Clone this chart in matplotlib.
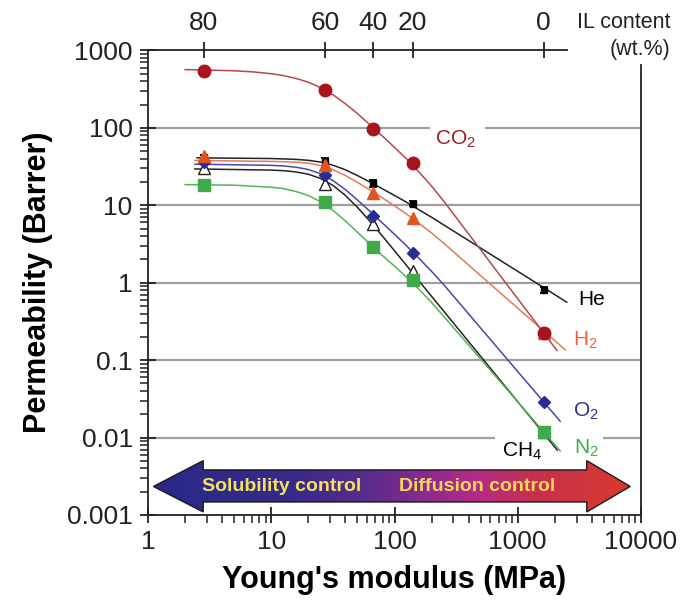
import numpy as np
import matplotlib
matplotlib.use('Agg')
import matplotlib.pyplot as plt
from matplotlib.patches import Polygon
from matplotlib.colors import LinearSegmentedColormap
from matplotlib.ticker import FixedLocator, NullLocator, LogLocator, NullFormatter

plt.rcParams['font.family'] = ['Liberation Sans', 'DejaVu Sans']

# Young's modulus (MPa) of the five membranes and their IL content (wt.%)
modulus = [2.83, 27.3, 66.5, 140, 1620]
il_content = ['80', '60', '40', '20', '0']

# measured permeabilities (Barrer)
p_co2 = [538, 306, 97, 35.4, 0.222]
p_h2 = [43.7, 33.4, 14.6, 6.8, 0.222]
p_he = [41, 36.4, 19.4, 10.5, 0.81]
p_he_err = [3, 5, 2, 0.85, 0.08]
p_o2 = [35.8, 24.8, 7.3, 2.45, 0.029]
p_ch4 = [30.3, 19.0, 5.8, 1.4, 0.0118]
p_n2 = [18.4, 11.0, 2.88, 1.09, 0.0119]

# fitted curves
fit_co2_e = [2, 3.16, 5, 7.08, 10, 12.6, 15.8, 20, 25.1, 31.6, 39.8, 50.1, 63.1, 79.4,
             100, 126, 158, 200, 251, 501, 1000, 1620, 2080]
fit_co2_p = [566, 558, 546, 529, 501, 473, 436, 389, 331, 268, 206, 153, 110, 78.9,
             56.0, 39.4, 26.9, 17.7, 11.3, 2.65, 0.62, 0.226, 0.133]
fit_he_e = [2.5, 10, 15.8, 20, 25.1, 31.6, 39.8, 50.1, 63.1, 79.4, 100, 126, 158, 200,
            251, 1620, 2500]
fit_he_p = [41, 40.2, 39.2, 38.1, 36.2, 33.0, 28.8, 24.2, 20.0, 16.4, 13.4, 10.9, 8.74, 7.0,
            5.58, 0.866, 0.56]
fit_h2_e = [2.4, 10, 15.8, 20, 25.1, 31.6, 39.8, 50.1, 63.1, 79.4, 100, 126, 158, 200,
            251, 501, 1000, 1620, 2430]
fit_h2_p = [38, 36.9, 36.1, 35.0, 32.6, 28.9, 24.3, 19.8, 15.8, 12.5, 9.86, 7.65, 5.84, 4.38,
            3.24, 1.23, 0.469, 0.239, 0.136]
fit_o2_e = [2.4, 10, 12.6, 15.8, 20, 25.1, 31.6, 39.8, 50.1, 63.1, 79.4, 100, 126, 158,
            200, 251, 501, 1000, 1620, 2210]
fit_o2_p = [34, 32.8, 32.2, 31.1, 29.0, 25.6, 20.9, 16.0, 11.7, 8.37, 5.95, 4.22, 2.97, 2.06,
            1.40, 0.943, 0.259, 0.0712, 0.029, 0.0162]
fit_ch4_e = [2.4, 10, 12.6, 15.8, 20, 25.1, 31.6, 39.8, 50.1, 63.1, 79.4, 100, 126, 158,
             251, 501, 1000, 1620, 2090]
fit_ch4_p = [29.5, 28.5, 28.0, 27.0, 25.2, 22.2, 18.1, 13.5, 9.38, 6.23, 4.04, 2.59, 1.65, 1.053,
             0.429, 0.1115, 0.029, 0.01135, 0.0069]
fit_n2_e = [2, 5, 10, 12.6, 15.8, 20, 25.1, 31.6, 39.8, 50.1, 63.1, 79.4, 100, 126, 158,
            200, 251, 501, 1000, 1620, 2210]
fit_n2_p = [18.5, 18.2, 17.1, 16.4, 15.1, 13.4, 11.1, 8.63, 6.32, 4.49, 3.17, 2.26, 1.64, 1.17,
            0.821, 0.555, 0.367, 0.103, 0.0289, 0.0119, 0.00673]

x_ticks = [1, 10, 100, 1000, 10000]
x_labels = ['1', '10', '100', '1000', '10000']
y_ticks = [0.001, 0.01, 0.1, 1, 10, 100, 1000]
y_labels = ['0.001', '0.01', '0.1', '1', '10', '100', '1000']

fig = plt.figure(figsize=(6.83, 6.0), dpi=100)
ax = fig.add_axes([0.2167, 0.1417, 0.7218, 0.7742])
ax.set_xscale('log')
ax.set_yscale('log')
ax.set_xlim(1, 10000)
ax.set_ylim(0.001, 1000)

# grid lines (some broken around labels)
grid_kw = dict(colors='#a0a0a0', linewidth=1.6, zorder=1)
ax.hlines(100, 1, 194, **grid_kw)
ax.hlines(100, 545, 10000, **grid_kw)
ax.hlines([10, 1, 0.1], 1, 10000, **grid_kw)
ax.hlines(0.01, 1, 656, **grid_kw)
ax.hlines(0.01, 4900, 10000, **grid_kw)

# fitted curves
ax.plot(fit_he_e, fit_he_p, color='#222222', lw=1.1, zorder=2)
ax.plot(fit_ch4_e, fit_ch4_p, color='#222222', lw=1.1, zorder=2)
ax.plot(fit_n2_e, fit_n2_p, color='#55b35a', lw=1.1, zorder=2)
ax.plot(fit_o2_e, fit_o2_p, color='#4848ac', lw=1.1, zorder=2)
ax.plot(fit_h2_e, fit_h2_p, color='#e4785c', lw=1.1, zorder=2)
ax.plot(fit_co2_e, fit_co2_p, color='#b8474c', lw=1.1, zorder=2)

# data points
ax.errorbar(modulus, p_he, yerr=p_he_err, fmt='s', color='black', ms=4,
            capsize=3, elinewidth=1.3, capthick=1.3, zorder=3)
ax.plot(modulus, p_ch4, '^', mfc='white', mec='#222222', mew=1.0, ms=9, ls='none', zorder=4)
ax.plot(modulus, p_n2, 's', color='#3faa4a', ms=8.5, ls='none', zorder=5)
ax.plot(modulus, p_o2, 'D', color='#2b2b96', ms=6.5, ls='none', zorder=6)
ax.plot(modulus, p_h2, '^', color='#e2541f', ms=8, ls='none', zorder=7)
ax.plot(modulus, p_co2, 'o', color='#a8141e', ms=9, ls='none', zorder=8)

# gas labels
lab_kw = dict(fontsize=15, va='baseline', ha='left')
ax.text(213, 60.6, 'CO$_\\mathregular{2}$', color='#9e1c22', **lab_kw)
ax.text(3112, 0.516, 'He', color='black', **lab_kw)
ax.text(2802, 0.157, 'H$_\\mathregular{2}$', color='#e8643a', **lab_kw)
ax.text(2783, 0.0185, 'O$_\\mathregular{2}$', color='#2e3192', **lab_kw)
ax.text(2872, 0.00622, 'N$_\\mathregular{2}$', color='#3fae49', **lab_kw)
ax.text(743, 0.00563, 'CH$_\\mathregular{4}$', color='black', **lab_kw)

# axes styling
ax.xaxis.set_major_locator(FixedLocator(x_ticks))
ax.set_xticklabels(x_labels)
ax.xaxis.set_minor_locator(LogLocator(base=10, subs=np.arange(2, 10)))
ax.xaxis.set_minor_formatter(NullFormatter())
ax.yaxis.set_major_locator(FixedLocator(y_ticks))
ax.set_yticklabels(y_labels)
ax.yaxis.set_minor_locator(LogLocator(base=10, subs=np.arange(2, 10)))
ax.yaxis.set_minor_formatter(NullFormatter())
ax.tick_params(which='major', direction='inout', length=12, width=1.3,
               labelsize=19, pad=5, colors='#222222')
ax.tick_params(which='minor', direction='out', length=5.5, width=1.1, colors='#222222')
ax.tick_params(axis='x', which='both', top=False)
ax.tick_params(axis='y', which='both', right=False)
ax.spines['top'].set_visible(False)
ax.spines['right'].set_bounds(0.001, 650)
for s in ['left', 'bottom', 'right']:
    ax.spines[s].set_linewidth(1.3)
    ax.spines[s].set_color('#222222')

ax.set_xlabel("Young's modulus (MPa)", fontsize=22, fontweight='bold', labelpad=8)
ax.set_ylabel('Permeability (Barrer)', fontsize=22, fontweight='bold', labelpad=10)

# top axis: IL content
ax_top = ax.twiny()
ax_top.set_xscale('log')
ax_top.set_xlim(1, 10000)
ax_top.xaxis.set_major_locator(FixedLocator(modulus))
ax_top.set_xticklabels(il_content)
ax_top.xaxis.set_minor_locator(NullLocator())
ax_top.tick_params(axis='x', which='major', direction='inout', length=12, width=1.3,
                   labelsize=19, pad=5, colors='#222222')
for s in ['left', 'right', 'bottom']:
    ax_top.spines[s].set_visible(False)
ax_top.spines['top'].set_bounds(1, 2500)
ax_top.spines['top'].set_linewidth(1.3)
ax_top.spines['top'].set_color('#222222')

fig.text(0.981, 0.963, 'IL content', fontsize=15.5, ha='right', va='center', color='#222222')
fig.text(0.981, 0.917, '(wt.%)', fontsize=15.5, ha='right', va='center', color='#222222')

# gradient double arrow
ax_arr = fig.add_axes(ax.get_position(), zorder=5)
ax_arr.set_xlim(0, 1)
ax_arr.set_ylim(0, 1)
ax_arr.axis('off')
ax_arr.patch.set_alpha(0)
verts = [(0.011, 0.0614), (0.112, 0.117), (0.112, 0.097), (0.890, 0.097),
         (0.890, 0.117), (0.978, 0.0614), (0.890, 0.0065), (0.890, 0.028),
         (0.112, 0.028), (0.112, 0.0065)]
arrow = Polygon(verts, closed=True, facecolor='none', edgecolor='#1a1a1a', lw=1.0, zorder=3)
ax_arr.add_patch(arrow)
cmap = LinearSegmentedColormap.from_list('arr', [
    (0.0, '#2a2a88'), (0.28, '#35298a'), (0.45, '#5a2b8e'),
    (0.58, '#8e2a8e'), (0.68, '#b52a88'), (0.80, '#c6304e'), (1.0, '#d83a2c')])
grad = np.linspace(0, 1, 256).reshape(1, -1)
im = ax_arr.imshow(grad, extent=[0.011, 0.978, 0.0065, 0.117], aspect='auto',
                   cmap=cmap, zorder=2)
im.set_clip_path(arrow)
ax_arr.set_xlim(0, 1)
ax_arr.set_ylim(0, 1)
ax_arr.text(0.272, 0.0614, 'Solubility control', color='#f2e35a', fontsize=14,
            fontweight='bold', ha='center', va='center', zorder=4)
ax_arr.text(0.667, 0.0614, 'Diffusion control', color='#f5d858', fontsize=14,
            fontweight='bold', ha='center', va='center', zorder=4)

fig.savefig('out.png', dpi=100)
